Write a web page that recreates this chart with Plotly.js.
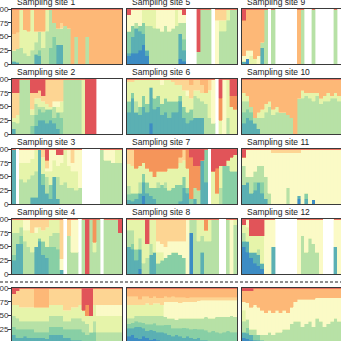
<!DOCTYPE html>
<html><head><meta charset="utf-8">
<script src="https://cdn.plot.ly/plotly-3.0.1.min.js"></script>
<style>html,body{margin:0;padding:0;overflow:hidden;width:341px;height:341px;background:#fff}
#chart{position:absolute;left:-30px;top:-30px;width:400px;height:400px}</style>
</head><body><div id="chart"></div>
<script>
// stack order bottom->top
const categories = ['Group A','Group B','Group C','Group D','Group E','Group F','Group G','Group H','Group I','Group J'];
const colors = ['#3d8cc4','#5bb0b3','#88cfa5','#b7e1a6','#e6f4aa','#fbfac6','#fdd593','#fdb877','#f5955a','#e15459'];
const siteTitles = ['Sampling site 1','Sampling site 2','Sampling site 3','Sampling site 4','Sampling site 5','Sampling site 6','Sampling site 7','Sampling site 8','Sampling site 9','Sampling site 10','Sampling site 11','Sampling site 12','','',''];
const yTickVals = [0,25,50,75,100];
const yTickText = ['0','25','50','75','100'];

// each bar: [A,B,C,D,E,F,G,H,I,J] percentages
const site1 = [
[0,5,0,20,0,0,30,45,0,0],[0,3,0,25,0,0,30,42,0,0],[0,0,0,30,70,0,0,0,0,0],[0,0,0,20,42,0,0,38,0,0],[0,0,0,15,45,0,0,40,0,0],
[0,0,0,25,75,0,0,0,0,0],[0,18,0,22,20,0,0,40,0,0],[0,15,10,35,0,0,0,40,0,0],[0,0,0,30,30,0,0,40,0,0],[0,0,0,60,40,0,0,0,0,0],
[0,0,30,70,0,0,0,0,0,0],[0,0,50,25,0,0,0,25,0,0],[0,35,0,30,0,0,0,35,0,0],[0,35,0,30,0,0,10,25,0,0],[0,0,0,70,0,0,0,30,0,0],
[0,0,0,65,0,0,0,35,0,0],[0,0,0,0,0,0,0,100,0,0],[0,0,0,50,0,0,0,50,0,0],[0,0,0,0,0,0,0,100,0,0],[0,0,0,0,0,0,0,100,0,0],
[0,0,0,50,0,0,0,50,0,0],[0,0,0,0,0,0,0,100,0,0],[0,0,0,0,0,0,0,100,0,0],[0,0,0,0,0,0,0,100,0,0],[0,0,0,0,0,0,0,100,0,0],
[0,0,0,0,0,0,0,100,0,0],[0,0,0,0,0,0,0,100,0,0],[0,0,0,0,0,0,0,100,0,0],[0,0,0,0,0,0,0,100,0,0],[0,0,0,0,0,0,0,100,0,0]];
const site2 = [
[0,10,0,12,8,0,45,0,0,25],[0,0,0,20,15,0,40,0,0,25],[0,0,0,100,0,0,0,0,0,0],[0,0,0,100,0,0,0,0,0,0],[0,0,0,100,0,0,0,0,0,0],
[0,0,15,20,10,0,30,0,0,25],[0,15,20,20,10,0,10,0,0,25],[0,25,20,5,15,0,15,0,0,20],[0,25,15,10,10,0,10,0,0,30],[0,20,25,0,10,0,45,0,0,0],
[0,25,20,0,5,0,50,0,0,0],[0,20,10,20,0,10,40,0,0,0],[0,10,30,0,10,10,40,0,0,0],[0,0,30,10,20,0,40,0,0,0],[0,0,0,100,0,0,0,0,0,0],
[0,0,0,100,0,0,0,0,0,0],[0,0,0,100,0,0,0,0,0,0],[0,0,0,100,0,0,0,0,0,0],[0,0,0,100,0,0,0,0,0,0],[0,0,0,0,100,0,0,0,0,0],
[0,0,0,0,0,0,0,0,0,100],[0,0,0,0,0,0,0,0,0,100],[0,0,0,0,0,0,0,0,0,100],[0,0,0,0,0,0,0,0,0,0],[0,0,0,0,0,0,0,0,0,0],
[0,0,0,0,0,0,0,0,0,0],[0,0,0,0,0,0,0,0,0,0],[0,0,0,0,0,0,0,0,0,0],[0,0,0,0,0,0,0,0,0,0],[0,0,0,0,0,0,0,0,0,0]];
const site3 = [
[0,100,0,0,0,0,0,0,0,0],[0,0,0,0,0,0,0,0,0,0],[0,0,0,45,30,25,0,0,0,0],[0,0,0,40,35,25,0,0,0,0],[0,0,0,45,30,25,0,0,0,0],
[0,12,0,40,30,18,0,0,0,0],[0,12,0,48,40,0,0,0,0,0],[0,100,0,0,0,0,0,0,0,0],[0,35,20,0,30,0,15,0,0,0],[0,20,0,30,10,5,15,0,0,20],
[0,10,25,0,25,40,0,0,0,0],[0,50,0,0,30,20,0,0,0,0],[0,10,0,40,20,20,0,0,0,10],[0,0,0,35,40,15,0,0,0,10],[0,0,0,40,60,0,0,0,0,0],
[0,0,0,30,40,30,0,0,0,0],[0,0,0,30,30,15,25,0,0,0],[0,0,0,25,35,40,0,0,0,0],[0,0,0,30,0,70,0,0,0,0],[0,0,0,0,0,0,0,0,0,0],
[0,0,0,0,0,0,0,0,0,0],[0,0,0,0,0,0,0,0,0,0],[0,0,0,0,0,0,0,0,0,0],[0,0,0,0,0,0,0,0,0,0],[0,0,0,100,0,0,0,0,0,0],
[0,0,0,80,0,20,0,0,0,0],[0,0,0,80,0,20,0,0,0,0],[0,0,0,75,0,25,0,0,0,0],[0,0,0,75,25,0,0,0,0,0],[0,0,0,75,25,0,0,0,0,0]];
const site4 = [
[0,25,10,40,25,0,0,0,0,0],[0,55,0,20,25,0,0,0,0,0],[0,55,15,15,15,0,0,0,0,0],[0,0,0,60,20,20,0,0,0,0],[0,0,0,50,30,20,0,0,0,0],
[0,0,0,40,35,0,25,0,0,0],[0,50,0,0,25,10,15,0,0,0],[0,60,5,0,20,0,15,0,0,0],[0,35,25,0,20,0,20,0,0,0],[0,30,20,0,35,0,15,0,0,0],
[0,0,50,20,30,0,0,0,0,0],[0,0,50,25,25,0,0,0,0,0],[0,0,45,30,25,0,0,0,0,0],[0,8,0,0,0,20,72,0,0,0],[0,0,0,0,0,0,0,0,0,0],
[0,0,0,70,0,0,30,0,0,0],[0,0,0,40,0,60,0,0,0,0],[0,0,0,40,0,60,0,0,0,0],[0,0,0,0,0,0,0,0,0,0],[0,0,0,100,0,0,0,0,0,0],
[0,0,0,0,0,0,0,0,0,100],[0,0,0,100,0,0,0,0,0,0],[0,0,0,40,18,0,0,0,42,0],[0,0,0,100,0,0,0,0,0,0],[0,0,0,0,0,0,0,0,0,0],
[0,0,0,100,0,0,0,0,0,0],[0,0,0,100,0,0,0,0,0,0],[0,0,0,100,0,0,0,0,0,0],[0,0,0,100,0,0,0,0,0,0],[0,0,0,75,0,0,0,0,0,25]];
const site5 = [
[15,5,40,0,0,30,0,0,0,10],[20,30,20,0,0,30,0,0,0,0],[20,45,0,10,0,25,0,0,0,0],[25,35,10,0,0,30,0,0,0,0],[35,20,20,0,25,0,0,0,0,0],
[15,10,0,45,30,0,0,0,0,0],[0,0,0,70,30,0,0,0,0,0],[0,0,0,65,35,0,0,0,0,0],[0,0,0,65,0,35,0,0,0,0],[0,0,0,60,0,40,0,0,0,0],
[0,0,0,70,0,30,0,0,0,0],[0,0,0,60,0,40,0,0,0,0],[0,0,0,65,0,35,0,0,0,0],[0,0,0,70,30,0,0,0,0,0],[10,45,0,20,0,25,0,0,0,0],
[5,20,20,30,0,15,0,0,0,10],[0,0,0,0,0,0,0,0,0,0],[0,0,0,0,0,0,0,0,0,0],[0,0,0,0,0,0,0,0,0,0],[0,0,0,22,0,0,0,0,0,78],
[0,0,0,100,0,0,0,0,0,0],[0,0,0,100,0,0,0,0,0,0],[0,0,0,100,0,0,0,0,0,0],[0,0,0,0,0,0,0,0,0,0],[0,0,0,0,0,80,20,0,0,0],
[0,0,0,60,20,0,20,0,0,0],[0,0,0,60,20,0,20,0,0,0],[0,0,0,80,20,0,0,0,0,0],[0,0,0,100,0,0,0,0,0,0],[0,0,0,100,0,0,0,0,0,0]];
const site6 = [
[0,40,20,0,35,0,5,0,0,0],[0,65,10,0,20,0,5,0,0,0],[0,40,0,20,40,0,0,0,0,0],[0,35,15,0,50,0,0,0,0,0],[0,50,20,0,30,0,0,0,0,0],
[0,40,15,0,45,0,0,0,0,0],[20,65,0,0,15,0,0,0,0,0],[0,45,20,0,35,0,0,0,0,0],[0,50,20,0,30,0,0,0,0,0],[0,35,20,0,35,10,0,0,0,0],
[0,40,25,0,35,0,0,0,0,0],[0,30,30,0,40,0,0,0,0,0],[0,40,20,0,35,0,5,0,0,0],[0,40,20,0,30,0,10,0,0,0],[0,60,10,0,20,0,10,0,0,0],
[0,30,20,0,30,0,20,0,0,0],[0,20,20,0,30,10,20,0,0,0],[0,25,20,0,20,0,25,10,0,0],[0,30,0,40,10,0,20,0,0,0],[0,30,0,35,15,0,20,0,0,0],
[0,30,0,30,15,0,15,10,0,0],[0,0,0,55,20,0,0,25,0,0],[0,0,0,30,50,0,20,0,0,0],[0,0,0,20,0,80,0,0,0,0],[0,0,0,0,0,0,0,0,0,0],
[0,0,0,0,25,0,0,0,40,35],[0,0,0,0,0,100,0,0,0,0],[0,0,0,30,70,0,0,0,0,0],[0,0,0,0,50,0,0,0,20,30],[0,0,0,0,45,0,0,0,25,30]];
const site7 = [
[0,8,10,15,40,0,27,0,0,0],[0,5,15,0,50,0,30,0,0,0],[0,10,10,0,45,0,0,0,35,0],[0,20,0,20,30,0,0,0,30,0],[15,25,15,0,20,0,0,0,25,0],
[0,20,20,0,25,0,0,0,35,0],[0,15,15,0,30,0,0,0,40,0],[0,10,20,0,20,0,0,0,50,0],[0,0,30,10,20,0,0,0,40,0],[0,0,35,0,25,0,0,0,40,0],
[0,0,30,10,20,0,0,0,40,0],[0,0,25,0,40,0,0,0,35,0],[0,0,30,0,35,0,0,0,35,0],[0,0,35,0,30,0,0,0,35,0],[0,5,30,0,40,0,10,0,15,0],
[0,30,20,0,30,0,20,0,0,0],[0,20,10,0,35,0,0,0,35,0],[0,0,10,0,0,0,0,0,75,15],[0,10,0,20,0,0,0,0,40,30],[0,0,0,25,0,0,0,0,45,30],
[0,80,0,0,0,0,0,0,0,20],[0,40,60,0,0,0,0,0,0,0],[0,0,0,0,0,0,0,0,0,0],[0,0,0,0,60,0,0,0,0,40],[0,0,0,0,20,0,0,0,45,35],
[0,0,0,30,40,0,0,0,0,30],[0,0,70,0,0,0,0,0,0,30],[0,0,70,0,10,0,0,0,0,20],[0,0,60,0,25,0,0,0,0,15],[0,0,60,0,30,0,0,0,0,10]];
const site8 = [
[0,50,0,30,20,0,0,0,0,0],[0,45,10,25,20,0,0,0,0,0],[0,25,20,0,55,0,0,0,0,0],[10,35,0,20,35,0,0,0,0,0],[0,0,0,20,80,0,0,0,0,0],
[0,0,0,30,25,0,0,0,0,45],[0,35,0,20,45,0,0,0,0,0],[0,40,0,0,60,0,0,0,0,0],[0,0,20,0,20,20,40,0,0,0],[0,0,25,0,15,15,45,0,0,0],
[0,0,30,0,0,20,50,0,0,0],[0,0,35,0,0,25,40,0,0,0],[0,0,40,0,0,20,40,0,0,0],[0,0,40,0,0,20,40,0,0,0],[0,0,35,0,0,25,40,0,0,0],
[0,0,30,0,0,30,40,0,0,0],[0,0,0,0,0,100,0,0,0,0],[75,0,0,25,0,0,0,0,0,0],[0,0,0,100,0,0,0,0,0,0],[0,0,0,60,40,0,0,0,0,0],
[0,40,0,30,30,0,0,0,0,0],[0,0,0,60,20,0,0,0,20,0],[0,0,0,60,40,0,0,0,0,0],[0,0,0,100,0,0,0,0,0,0],[0,0,0,100,0,0,0,0,0,0],
[0,0,0,0,0,0,0,0,0,0],[0,0,0,0,0,0,0,0,0,0],[0,0,0,100,0,0,0,0,0,0],[0,0,0,0,0,100,0,0,0,0],[0,0,0,90,10,0,0,0,0,0]];
const site9 = [
[0,5,0,0,0,10,0,65,0,20],[10,0,0,0,0,15,0,75,0,0],[0,0,0,0,15,10,0,75,0,0],[0,0,0,0,10,0,0,90,0,0],[0,0,0,0,0,15,0,85,0,0],
[0,30,0,10,0,0,0,60,0,0],[0,0,0,100,0,0,0,0,0,0],[0,0,0,0,0,0,0,0,0,0],[0,0,0,100,0,0,0,0,0,0],[0,0,0,0,0,0,0,0,0,0],
[0,0,0,0,0,0,0,0,0,0],[0,0,0,0,0,0,0,0,0,0],[0,0,0,0,0,0,0,0,0,0],[0,0,0,0,0,0,0,0,0,0],[0,0,0,0,0,0,0,0,0,0],
[0,0,0,0,0,0,0,100,0,0],[0,0,0,100,0,0,0,0,0,0],[0,0,0,0,0,0,0,0,0,0],[0,0,0,0,0,0,0,0,0,0],[0,0,0,100,0,0,0,0,0,0],
[0,0,0,0,0,0,0,0,0,0],[0,0,0,0,0,0,0,0,0,0],[0,0,0,0,0,0,0,0,0,0],[0,0,0,0,0,0,0,0,0,0],[0,0,0,0,0,0,0,0,0,0],
[0,0,0,100,0,0,0,0,0,0],[0,0,0,0,0,0,0,0,0,0],[0,0,0,0,0,0,0,0,0,0],[0,0,0,0,0,0,0,0,0,0],[0,0,0,0,0,0,0,0,0,0]];
const site10 = [
[0,20,20,20,15,0,0,25,0,0],[0,30,15,15,10,0,0,30,0,0],[0,25,15,10,0,0,0,50,0,0],[0,20,0,10,0,0,0,70,0,0],[0,10,0,20,10,0,0,60,0,0],
[0,0,0,30,15,0,0,55,0,0],[0,0,0,40,15,0,0,45,0,0],[0,0,0,50,10,0,0,40,0,0],[0,0,0,35,10,0,0,55,0,0],[0,0,0,40,10,0,0,50,0,0],
[0,0,0,40,0,0,0,60,0,0],[0,0,0,40,0,0,0,60,0,0],[0,0,0,35,0,0,0,65,0,0],[0,0,0,30,0,0,0,70,0,0],[0,0,0,0,0,0,0,100,0,0],
[0,0,0,65,0,0,0,35,0,0],[0,0,0,65,15,0,0,20,0,0],[0,0,0,70,5,0,0,25,0,0],[0,0,0,65,10,0,0,25,0,0],[0,0,0,60,15,0,0,25,0,0],
[0,0,0,70,5,0,0,25,0,0],[0,0,0,55,10,0,0,35,0,0],[0,0,0,60,10,0,0,30,0,0],[0,0,0,60,15,0,0,25,0,0],[0,0,0,65,5,0,0,30,0,0],
[0,0,0,65,10,0,0,25,0,0],[0,0,0,60,10,0,0,30,0,0],[0,0,0,62,8,0,0,30,0,0],[0,0,0,58,12,0,0,30,0,0],[0,0,0,60,10,0,0,30,0,0]];
const site11 = [
[0,35,0,35,0,15,0,0,0,15],[0,40,0,10,0,50,0,0,0,0],[0,20,0,30,0,50,0,0,0,0],[0,25,15,20,0,40,0,0,0,0],[0,40,0,30,0,30,0,0,0,0],
[0,20,20,30,0,30,0,0,0,0],[0,10,0,40,0,50,0,0,0,0],[0,0,0,20,0,80,0,0,0,0],[0,0,0,0,0,93,7,0,0,0],[0,0,0,0,0,93,7,0,0,0],
[0,0,0,0,0,93,7,0,0,0],[0,0,0,0,0,93,7,0,0,0],[0,0,0,30,0,63,7,0,0,0],[0,0,0,0,0,93,7,0,0,0],[0,0,0,0,0,93,7,0,0,0],
[10,5,0,0,0,78,7,0,0,0],[0,0,0,0,0,100,0,0,0,0],[0,10,10,0,0,80,0,0,0,0],[0,0,0,0,0,100,0,0,0,0],[8,0,0,0,0,92,0,0,0,0],
[0,0,0,0,0,100,0,0,0,0],[0,0,0,0,0,100,0,0,0,0],[0,0,0,0,0,100,0,0,0,0],[0,0,0,0,0,100,0,0,0,0],[0,0,0,0,0,100,0,0,0,0],
[0,0,0,0,0,100,0,0,0,0],[0,0,0,0,0,100,0,0,0,0],[0,0,0,0,0,100,0,0,0,0],[0,0,0,0,0,100,0,0,0,0],[0,0,0,0,0,100,0,0,0,0]];
const site12 = [
[50,10,0,15,15,0,0,0,0,10],[40,20,0,0,25,15,0,0,0,0],[30,10,0,0,30,0,0,0,0,30],[20,20,0,0,30,0,0,0,0,30],[15,20,0,10,25,0,0,0,0,30],
[10,10,0,0,50,0,0,0,0,30],[0,0,0,0,0,100,0,0,0,0],[0,0,0,0,0,100,0,0,0,0],[0,50,0,0,0,50,0,0,0,0],[0,0,0,0,0,0,0,0,0,0],
[0,0,0,0,0,0,0,0,0,0],[0,0,0,0,0,0,0,0,0,0],[0,0,0,0,0,0,0,0,0,0],[0,0,0,0,0,0,0,0,0,0],[0,0,0,0,0,0,0,0,0,0],
[0,0,0,0,0,100,0,0,0,0],[0,0,0,70,0,30,0,0,0,0],[0,0,0,40,0,60,0,0,0,0],[0,0,0,65,0,35,0,0,0,0],[0,0,0,55,0,45,0,0,0,0],
[0,0,0,40,0,60,0,0,0,0],[0,0,0,0,0,100,0,0,0,0],[0,0,0,0,0,0,0,0,0,0],[0,0,0,0,0,0,0,0,0,0],[0,0,0,0,0,0,0,0,0,0],
[0,50,0,0,0,50,0,0,0,0],[0,0,0,0,0,100,0,0,0,0],[0,0,0,0,0,100,0,0,0,0],[0,0,0,0,0,100,0,0,0,0],[0,0,0,0,0,100,0,0,0,0]];
const site13 = [
[0,15,15,20,20,0,20,0,0,10],[0,10,15,20,25,0,25,0,0,5],[0,10,15,15,25,0,35,0,0,0],[0,12,13,15,25,0,35,0,0,0],[0,10,15,15,25,0,35,0,0,0],
[0,10,15,15,25,0,35,0,0,0],[0,10,10,20,25,0,0,35,0,0],[0,10,10,20,25,0,0,35,0,0],[0,10,10,20,25,0,0,35,0,0],[0,8,12,20,25,0,0,35,0,0],
[0,15,15,20,20,0,30,0,0,0],[0,15,15,20,20,0,30,0,0,0],[0,15,15,20,20,0,30,0,0,0],[0,15,15,20,20,0,30,0,0,0],[0,10,15,15,20,0,40,0,0,0],
[0,10,15,15,20,0,40,0,0,0],[0,5,20,20,20,0,35,0,0,0],[0,5,20,20,20,0,35,0,0,0],[0,5,20,20,25,0,30,0,0,0],[0,0,20,20,20,0,0,0,0,40],
[0,0,15,20,15,0,0,0,20,30],[0,0,20,0,30,0,0,0,0,50],[0,0,20,20,30,0,30,0,0,0],[0,0,0,20,30,20,30,0,0,0],[0,0,0,20,30,20,30,0,0,0],
[0,0,0,20,30,20,30,0,0,0],[0,0,0,20,30,20,30,0,0,0],[0,0,0,20,30,20,30,0,0,0],[0,0,0,20,30,20,30,0,0,0],[0,0,0,20,30,20,30,0,0,0]];
const site14 = [
[12,15,8,10,25,0,15,15,0,0],[15,12,10,8,25,0,15,15,0,0],[10,20,10,10,20,0,15,15,0,0],[8,22,8,12,20,0,10,20,0,0],[12,15,10,13,20,0,15,15,0,0],
[10,12,12,16,22,0,13,15,0,0],[6,18,10,16,20,0,12,18,0,0],[8,14,14,14,22,0,13,15,0,0],[5,15,12,18,22,0,10,18,0,0],[4,16,12,18,20,0,12,18,0,0],
[0,18,15,15,0,27,10,15,0,0],[0,15,18,12,0,30,8,17,0,0],[0,12,15,18,0,30,10,15,0,0],[0,15,12,15,0,33,8,17,0,0],[0,12,15,18,0,28,10,17,0,0],
[0,10,18,17,0,30,8,17,0,0],[0,12,15,18,0,30,7,18,0,0],[0,10,15,20,0,30,8,17,0,0],[0,8,18,19,0,30,8,17,0,0],[0,10,15,20,0,32,6,17,0,0],
[0,5,20,20,0,33,5,17,0,0],[0,5,18,25,0,30,5,17,0,0],[0,0,20,25,0,33,5,17,0,0],[0,0,22,23,0,33,5,17,0,0],[0,0,20,28,0,30,5,17,0,0],
[0,0,18,30,0,30,5,17,0,0],[0,0,20,28,0,30,5,17,0,0],[0,0,22,26,0,30,5,17,0,0],[0,0,20,30,0,28,5,17,0,0],[0,0,20,28,0,30,5,17,0,0]];
const site15 = [
[10,10,0,20,20,15,0,20,0,5],[8,10,10,15,0,30,0,22,0,5],[5,10,0,10,0,40,0,30,0,5],[5,0,10,10,0,45,0,30,0,0],[0,5,10,0,0,50,0,35,0,0],
[0,5,0,10,0,45,0,40,0,0],[0,0,0,15,0,40,0,45,0,0],[0,0,0,20,0,40,0,40,0,0],[0,0,0,15,0,40,0,45,0,0],[0,0,0,20,0,40,0,40,0,0],
[0,0,0,20,0,35,0,45,0,0],[0,0,0,25,0,35,0,40,0,0],[0,0,0,25,0,30,0,45,0,0],[0,0,0,35,0,30,0,35,0,0],[0,0,0,40,0,35,0,25,0,0],
[0,0,0,40,0,40,0,20,0,0],[0,0,0,30,0,50,0,20,0,0],[0,0,0,35,0,45,0,20,0,0],[0,0,0,40,0,40,0,20,0,0],[0,0,0,30,0,50,0,20,0,0],
[0,0,0,45,0,37,0,18,0,0],[0,0,0,40,0,42,0,18,0,0],[0,0,0,30,0,52,0,18,0,0],[0,0,0,35,0,47,0,18,0,0],[0,0,0,40,0,42,0,18,0,0],
[0,0,0,45,0,37,0,18,0,0],[0,0,0,40,0,42,0,18,0,0],[0,0,0,35,0,47,0,18,0,0],[0,0,0,40,0,42,0,18,0,0],[0,0,0,40,0,42,0,18,0,0]];

const sites = [site1,site2,site3,site4,site5,site6,site7,site8,site9,site10,site11,site12,site13,site14,site15];

// layout geometry (page pixels)
const OFF = 30, W = 400, H = 400;
const colX = [[12,122],[127,237],[242,352]];
const rowY = [[9,64],[79,134],[149,204],[219,274],[288,343]];
const panelPos = [[0,0],[1,0],[2,0],[3,0],[0,1],[1,1],[2,1],[3,1],[0,2],[1,2],[2,2],[3,2],[4,0],[4,1],[4,2]];

const traces = [];
const layout = {width:W,height:H,margin:{l:0,r:0,t:0,b:0},barmode:'stack',bargap:0,showlegend:false,
  paper_bgcolor:'#fff',plot_bgcolor:'#fff',annotations:[],shapes:[],hovermode:false,
  font:{family:'Liberation Sans, Arial, sans-serif',color:'#222'}};

sites.forEach((bars,i)=>{
  const n=i+1, ax = n===1?'':String(n);
  const [r,c]=panelPos[i];
  const x0=(colX[c][0]+OFF)/W, x1=(colX[c][1]+OFF)/W;
  const y0=1-(rowY[r][1]+OFF)/H, y1=1-(rowY[r][0]+OFF)/H;
  layout['xaxis'+ax]={domain:[x0,x1],anchor:'y'+ax,range:[-0.5,bars.length-0.5],showticklabels:false,ticks:'',
    showgrid:false,zeroline:false,showline:true,mirror:true,linecolor:'#3a3a3a',linewidth:1};
  layout['yaxis'+ax]={domain:[y0,y1],anchor:'x'+ax,range:[0,100],tickvals:yTickVals,ticktext:yTickText,
    showticklabels:c===0,ticks:c===0?'outside':'',ticklen:3,tickwidth:1,tickcolor:'#3a3a3a',ticklabelstandoff:-2,
    tickfont:{size:8,color:'#333',family:'Liberation Sans, Arial, sans-serif'},
    showgrid:false,zeroline:false,showline:true,mirror:true,linecolor:'#3a3a3a',linewidth:1};
  categories.forEach((cat,k)=>{
    traces.push({type:'bar',name:cat,x:bars.map((b,j)=>j),y:bars.map(b=>b[k]),
      marker:{color:colors[k],line:{width:0.4,color:colors[k]}},xaxis:'x'+ax,yaxis:'y'+ax,hoverinfo:'skip'});
  });
  if(siteTitles[i]){
    layout.annotations.push({text:siteTitles[i],xref:'paper',yref:'paper',x:(colX[c][0]+OFF+4)/W,
      y:1-(rowY[r][0]+OFF)/H,xanchor:'left',yanchor:'bottom',showarrow:false,
      font:{size:8.5,color:'#222',family:'Liberation Sans, Arial, sans-serif'},borderpad:0,yshift:1});
  }
});
layout.shapes.push({type:'line',xref:'paper',yref:'paper',x0:0,x1:1,y0:1-(282+OFF)/H,y1:1-(282+OFF)/H,
  line:{color:'#222',width:1,dash:'3px,2px'}});

Plotly.newPlot('chart',traces,layout,{staticPlot:true,displayModeBar:false});
</script></body></html>
